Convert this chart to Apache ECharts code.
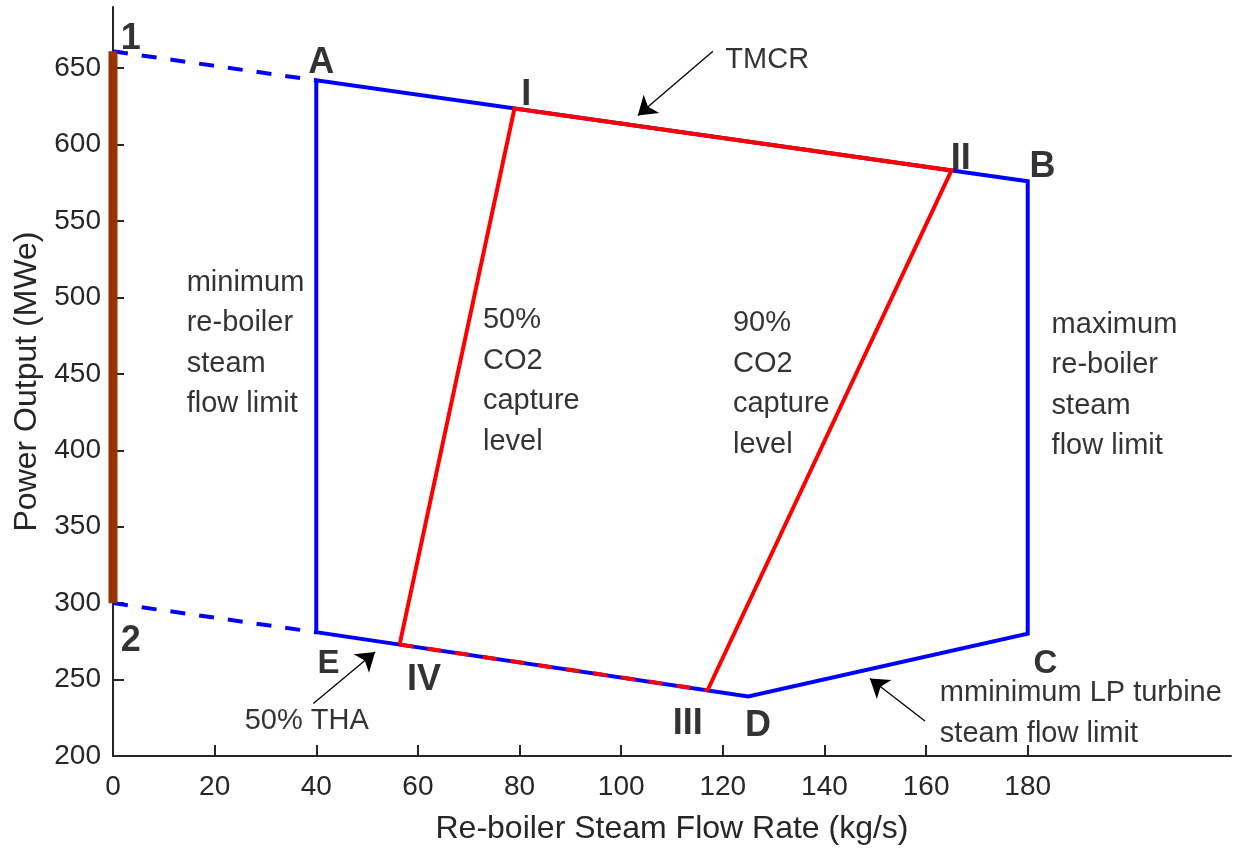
<!DOCTYPE html>
<html>
<head>
<meta charset="utf-8">
<script src="https://cdn.jsdelivr.net/npm/echarts@6/dist/echarts.min.js"></script>
<style>
html,body{margin:0;padding:0;background:#fff;}
#chart{width:1235px;height:849px;}
</style>
</head>
<body>
<div id="chart"></div>
<script>
// ---- data ----
const xTicks = [0, 20, 40, 60, 80, 100, 120, 140, 160, 180];
const yTicks = [200, 250, 300, 350, 400, 450, 500, 550, 600, 650];

// operating region boundary E -> A -> B -> C -> D -> E
const regionX = [40, 40, 180, 180, 125, 40];
const regionY = [281, 642, 576, 280, 239, 281];

// extrapolated dashed boundaries 1 -> A, 2 -> E
const upperExtX = [0, 40];
const upperExtY = [661, 642];
const lowerExtX = [0, 40];
const lowerExtY = [300, 281];

// brown vertical bar between 2 and 1
const barX = [0, 0];
const barY = [300, 661];

// capture region IV -> I -> II -> III
const captureX = [56.4, 79, 165, 117];
const captureY = [272.9, 623.6, 583.1, 243.0];

// shared segment IV -> III (50% THA)
const thaX = [56.4, 117];
const thaY = [272.9, 243.0];

// corner labels
const pointLabels = ['1', 'A', 'I', 'II', 'B', 'C', 'D', 'III', 'IV', 'E', '2'];
const pointLabelX = [3.6, 41.1, 81.4, 166.9, 183.0, 183.6, 127.0, 113.2, 61.3, 42.5, 3.6];
const pointLabelY = [671.4, 655.5, 634.9, 593.1, 587.8, 262.4, 221.7, 223.4, 251.7, 262.5, 277.2];

// annotation texts (top-left anchors)
const noteTexts = [
  'minimum\nre-boiler\nsteam\nflow limit',
  '50%\nCO2\ncapture\nlevel',
  '90%\nCO2\ncapture\nlevel',
  'maximum\nre-boiler\nsteam\nflow limit',
  'TMCR',
  'mminimum LP turbine\nsteam flow limit',
  '50% THA'
];
const noteX = [14.6, 72.9, 122.1, 184.8, 120.6, 162.8, 26.0];
const noteY = [522.5, 498.0, 495.9, 495.2, 668.3, 254.0, 236.0];

// annotation arrows
const arrowFromX = [118.05, 159.78, 39.42];
const arrowFromY = [661.1, 222.9, 234.3];
const arrowToX = [103.27, 148.94, 51.58];
const arrowToY = [619.0, 250.7, 268.1];

// ---- build ----
const zip = (xs, ys) => xs.map((x, i) => [x, ys[i]]);
const FONT = "'Liberation Sans', Arial, Helvetica, sans-serif";
const AX = '#262626';

const chart = echarts.init(document.getElementById('chart'), null, {renderer: 'canvas'});

const lineBase = {
  type: 'line', symbol: 'none', silent: true, animation: false
};

const option = {
  animation: false,
  backgroundColor: '#ffffff',
  grid: {left: 113, right: 4, top: 7, bottom: 93, containLabel: false, outerBoundsMode: 'none'},
  xAxis: {
    type: 'value', min: 0, max: 220, interval: 20,
    name: 'Re-boiler Steam Flow Rate (kg/s)', nameLocation: 'middle', nameGap: 57,
    nameTextStyle: {fontFamily: FONT, fontSize: 32, color: AX},
    axisLine: {show: true, onZero: false, lineStyle: {color: AX, width: 2}},
    axisTick: {show: true, inside: true, length: 11, lineStyle: {color: AX, width: 2}, customValues: xTicks},
    axisLabel: {fontFamily: FONT, fontSize: 28, color: AX, margin: 17, customValues: xTicks},
    splitLine: {show: false}
  },
  yAxis: {
    type: 'value', min: 200, max: 690, interval: 50,
    name: 'Power Output (MWe)', nameLocation: 'middle', nameGap: 68,
    nameTextStyle: {fontFamily: FONT, fontSize: 32, color: AX},
    axisLine: {show: true, onZero: false, lineStyle: {color: AX, width: 2}},
    axisTick: {show: true, inside: true, length: 11, lineStyle: {color: AX, width: 2}, customValues: yTicks},
    axisLabel: {fontFamily: FONT, fontSize: 28, color: AX, margin: 12, customValues: yTicks},
    splitLine: {show: false}
  },
  series: [
    Object.assign({}, lineBase, {
      data: zip(upperExtX, upperExtY), z: 2,
      lineStyle: {color: '#0000ff', width: 4, type: [15, 14], cap: 'butt'}
    }),
    Object.assign({}, lineBase, {
      data: zip(lowerExtX, lowerExtY), z: 2,
      lineStyle: {color: '#0000ff', width: 4, type: [15, 14], cap: 'butt'}
    }),
    Object.assign({}, lineBase, {
      data: zip(regionX, regionY), z: 3,
      lineStyle: {color: '#0000ff', width: 4, cap: 'square', join: 'miter'}
    }),
    Object.assign({}, lineBase, {
      data: zip(captureX, captureY), z: 4,
      lineStyle: {color: '#ff0000', width: 4, cap: 'butt', join: 'miter'}
    }),
    Object.assign({}, lineBase, {
      data: zip(thaX, thaY), z: 5,
      lineStyle: {color: '#ff0000', width: 4, type: [14, 14], cap: 'butt'}
    }),
    Object.assign({}, lineBase, {
      data: zip(barX, barY), z: 6,
      lineStyle: {color: '#993300', width: 9, cap: 'butt'}
    }),
    {
      type: 'lines', coordinateSystem: 'cartesian2d', silent: true, animation: false, z: 7,
      symbol: ['none', 'arrow'], symbolSize: [0, 18],
      lineStyle: {color: '#000000', width: 1.3, opacity: 1, curveness: 0},
      data: arrowFromX.map((x, i) => ({coords: [[x, arrowFromY[i]], [arrowToX[i], arrowToY[i]]]}))
    },
    {
      type: 'scatter', silent: true, animation: false, z: 8,
      symbolSize: 1, itemStyle: {color: 'rgba(0,0,0,0)'},
      data: pointLabels.map((t, i) => ({
        value: [pointLabelX[i], pointLabelY[i]],
        label: {fontSize: (t === 'C' || t === 'E') ? 33 : 36}
      })),
      label: {
        show: true, position: [0, 0], offset: [0, 4], align: 'center', verticalAlign: 'middle',
        fontFamily: FONT, fontWeight: 'bold', fontSize: 36, color: '#000000',
        formatter: p => pointLabels[p.dataIndex]
      }
    },
    {
      type: 'scatter', silent: true, animation: false, z: 8,
      symbolSize: 1, itemStyle: {color: 'rgba(0,0,0,0)'},
      data: noteTexts.map((t, i) => [noteX[i], noteY[i]]),
      label: {
        show: true, position: [0, 0], align: 'left', verticalAlign: 'top',
        fontFamily: FONT, fontSize: 29, lineHeight: 40.5, color: '#000000',
        formatter: p => noteTexts[p.dataIndex]
      }
    }
  ]
};
chart.setOption(option);
</script>
</body>
</html>
